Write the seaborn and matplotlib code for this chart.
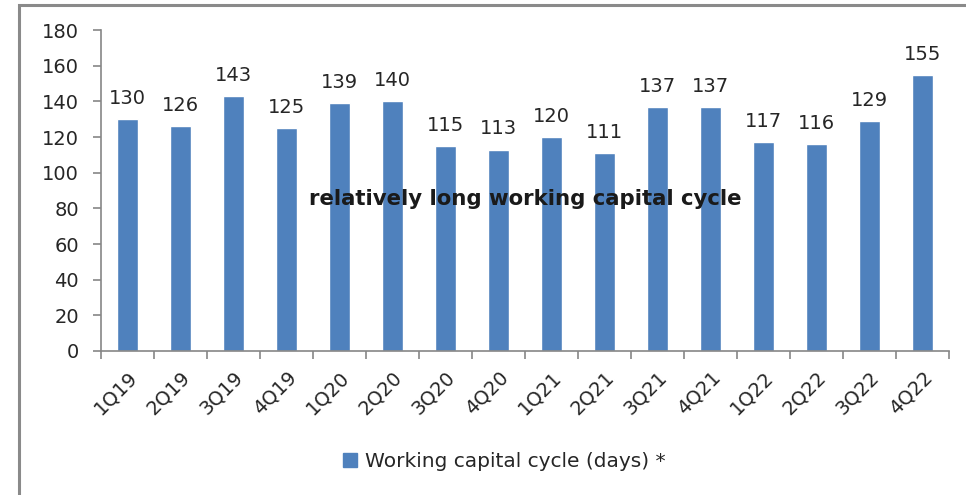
import numpy as np
import pandas as pd
import matplotlib
matplotlib.use("Agg")
import matplotlib.pyplot as plt
import matplotlib.patches as mpatches
from matplotlib.ticker import FixedLocator
import seaborn as sns

# data
quarters = ['1Q19', '2Q19', '3Q19', '4Q19', '1Q20', '2Q20', '3Q20', '4Q20',
            '1Q21', '2Q21', '3Q21', '4Q21', '1Q22', '2Q22', '3Q22', '4Q22']
cycle_days = [130, 126, 143, 125, 139, 140, 115, 113,
              120, 111, 137, 137, 117, 116, 129, 155]
series_name = 'Working capital cycle (days) *'
note_text = 'relatively long working capital cycle'

bar_color = '#4F81BD'
axis_gray = '#868686'

sns.set_style('white')
plt.rcParams['font.family'] = ['DejaVu Sans']

df = pd.DataFrame({'quarter': quarters, 'days': cycle_days})

fig = plt.figure(figsize=(9.66, 4.95), dpi=100)
ax = fig.add_axes([0.1046, 0.291, 0.8778, 0.648])

sns.barplot(data=df, x='quarter', y='days', color=bar_color, width=0.4,
            saturation=1, ax=ax)

# value labels above bars
ax.bar_label(ax.containers[0], padding=8, fontsize=14, color='#262626')

ax.set_ylim(0, 180)
ax.set_yticks(np.arange(0, 181, 20))
ax.set_xlim(-0.5, len(quarters) - 0.5)
ax.set_xlabel('')
ax.set_ylabel('')

# spines like an office chart
for side in ['top', 'right']:
    ax.spines[side].set_visible(False)
for side in ['left', 'bottom']:
    ax.spines[side].set_color(axis_gray)
    ax.spines[side].set_linewidth(1.2)

ax.tick_params(axis='y', which='major', direction='out', length=6, width=1.2,
               color=axis_gray, labelsize=14, labelcolor='#262626', pad=10, left=True)
ax.tick_params(axis='x', which='major', length=0, labelsize=14,
               labelcolor='#262626', pad=12)
ax.xaxis.set_minor_locator(FixedLocator(np.arange(-0.5, len(quarters), 1.0)))
ax.tick_params(axis='x', which='minor', direction='out', length=6, width=1.2,
               color=axis_gray, bottom=True)
plt.setp(ax.get_xticklabels(), rotation=45, ha='right', rotation_mode='anchor')

ax.text(7.5, 85, note_text, ha='center', va='center', fontsize=15.3,
        fontweight='bold', color='#1a1a1a')

handle = mpatches.Patch(color=bar_color, label=series_name)
fig.legend(handles=[handle], loc='center', bbox_to_anchor=(0.522, 0.067),
           frameon=False, fontsize=14.5, handlelength=0.7, handleheight=0.7,
           handletextpad=0.4, labelcolor='#262626')

# outer chart border (cut by image edges at right and bottom)
border = mpatches.Rectangle((0.0197, -0.1), 1.2, 1.09, transform=fig.transFigure,
                            fill=False, edgecolor='#8a8a8a', linewidth=2.2)
fig.patches.append(border)

fig.savefig('out.png', dpi=100)
